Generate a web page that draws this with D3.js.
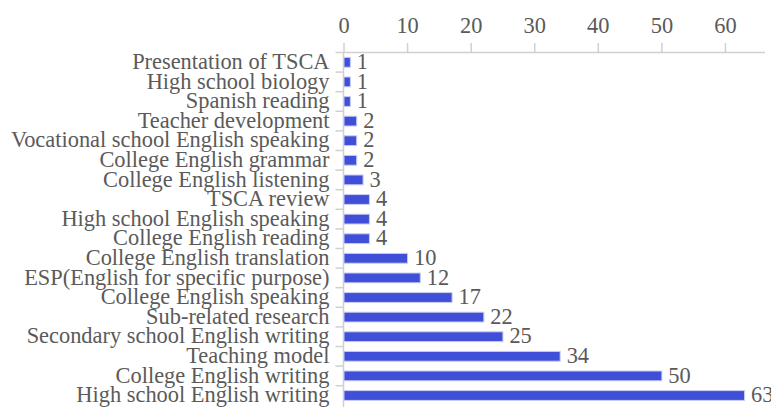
<!DOCTYPE html>
<html>
<head>
  <meta charset="UTF-8" />
  <script src="https://cdn.jsdelivr.net/npm/d3@7"></script>
  <style>
    body { margin: 0; background: #fff; }
  </style>
</head>
<body>
  <svg></svg>
  <script>
    const topics = [
      'Presentation of TSCA', 'High school biology', 'Spanish reading',
      'Teacher development', 'Vocational school English speaking',
      'College English grammar', 'College English listening', 'TSCA review',
      'High school English speaking', 'College English reading',
      'College English translation', 'ESP(English for specific purpose)',
      'College English speaking', 'Sub-related research',
      'Secondary school English writing', 'Teaching model',
      'College English writing', 'High school English writing'
    ];
    const counts = [1, 1, 1, 2, 2, 2, 3, 4, 4, 4, 10, 12, 17, 22, 25, 34, 50, 63];
    const xTicks = [0, 10, 20, 30, 40, 50, 60];

    const width = 771, height = 407;
    const margin = { top: 52.5, right: 6, left: 343.5 };
    const row = 19.6;
    const font = "'Liberation Serif'";
    const grey = '#5a5a5a';
    const axisColor = '#d0d0d0';

    const svg = d3.select('svg').attr('width', width).attr('height', height);

    const x = d3.scaleLinear().domain([0, 66.3]).range([margin.left, width - margin.right]);
    const y = d3.scaleBand().domain(topics).range([margin.top, margin.top + row * topics.length])
      .paddingInner(0.5).paddingOuter(0.25);

    // top axis
    const gx = svg.append('g').attr('transform', `translate(0,${margin.top})`)
      .call(d3.axisTop(x).tickValues(xTicks).tickSize(9.5).tickPadding(10));
    gx.attr('font-family', null).attr('font-size', null);
    gx.selectAll('path, line').attr('stroke', axisColor).attr('stroke-width', 1.5);
    gx.select('.domain').attr('d', `M${margin.left},0H${width - margin.right}`);
    gx.selectAll('text').style('font-size', '22.4px').style('font-family', font).attr('fill', grey);

    // left axis, ticks at band boundaries
    const gy = svg.append('g');
    gy.append('line')
      .attr('x1', margin.left).attr('x2', margin.left)
      .attr('y1', margin.top).attr('y2', height)
      .attr('stroke', axisColor).attr('stroke-width', 1.5);
    gy.selectAll('line.tk').data(topics).enter().append('line')
      .attr('class', 'tk')
      .attr('x1', margin.left - 8).attr('x2', margin.left)
      .attr('y1', (d, i) => margin.top + i * row)
      .attr('y2', (d, i) => margin.top + i * row)
      .attr('stroke', axisColor).attr('stroke-width', 1.5);
    gy.selectAll('text').data(topics).enter().append('text')
      .attr('x', margin.left - 14)
      .attr('y', d => y(d) + y.bandwidth() / 2)
      .attr('dy', '0.3em')
      .attr('text-anchor', 'end')
      .style('font-size', '22.4px')
      .style('font-family', font)
      .attr('fill', grey)
      .text(d => d);

    // bars
    svg.append('g').selectAll('rect').data(counts).enter().append('rect')
      .attr('x', x(0) + 0.5)
      .attr('y', (d, i) => y(topics[i]))
      .attr('width', d => x(d) - x(0))
      .attr('height', y.bandwidth())
      .attr('fill', '#3f4fd8')
      .attr('stroke', '#c8ccf2')
      .attr('stroke-width', 1);

    // value labels
    svg.append('g').selectAll('text').data(counts).enter().append('text')
      .attr('x', d => x(d) + 7)
      .attr('y', (d, i) => y(topics[i]) + y.bandwidth() / 2)
      .attr('dy', '0.3em')
      .style('font-size', '22.4px')
      .style('font-family', font)
      .attr('fill', grey)
      .text(d => d);
  </script>
</body>
</html>
